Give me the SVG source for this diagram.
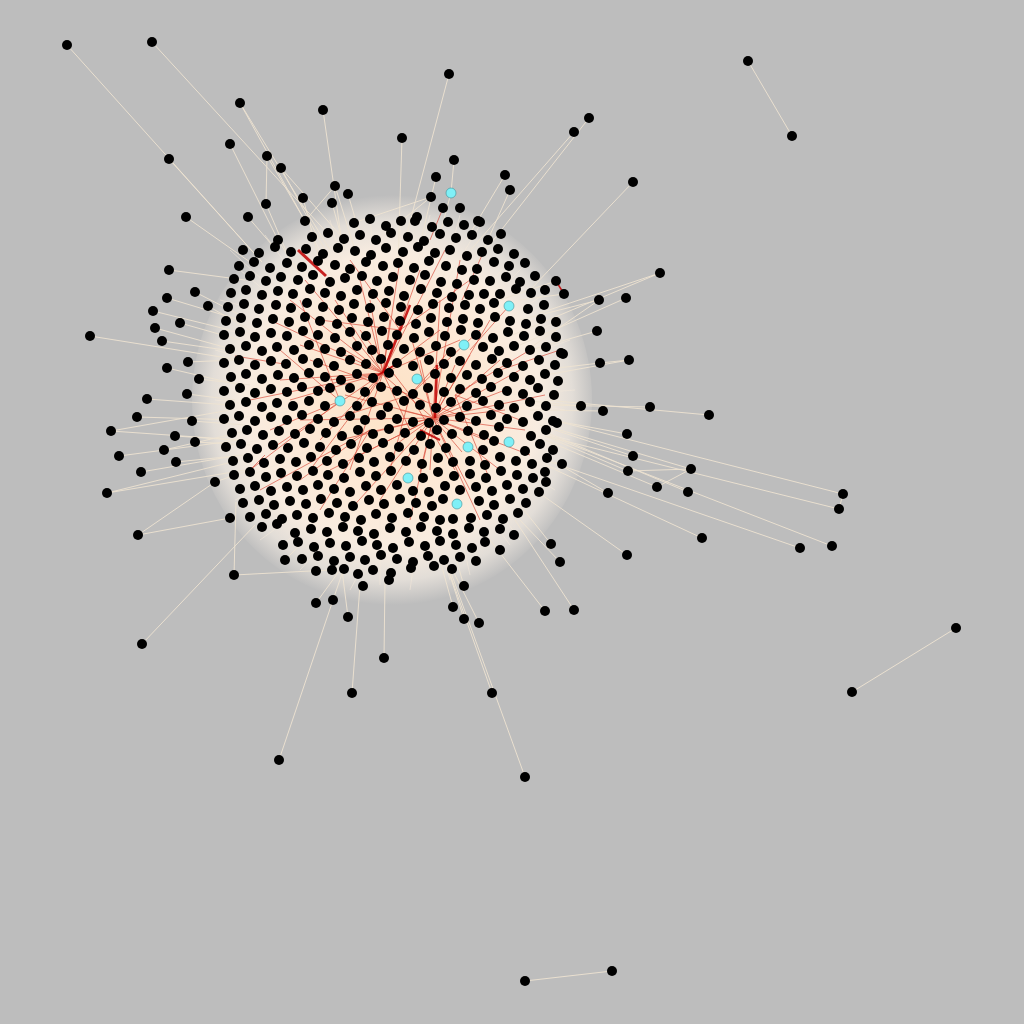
<svg xmlns="http://www.w3.org/2000/svg" xmlns:xlink="http://www.w3.org/1999/xlink" width="1024" height="1024" viewBox="0 0 1024 1024">
<defs>
<style>
.e{stroke:#eee3d1;stroke-width:0.9;fill:none}
.w{stroke:#f3e8da;stroke-width:0.7;opacity:.8;fill:none}
.r{stroke:#cc1100;stroke-width:0.7;opacity:.7;fill:none}
.rt{stroke:#c00000;fill:none;opacity:.85}
.cy{fill:#7ff0f7;stroke:#3c8f96;stroke-width:0.6}
</style>
<circle id="d" r="5" fill="#000"/>
<radialGradient id="haze" cx="392" cy="400" r="205" gradientUnits="userSpaceOnUse">
<stop offset="0" stop-color="#fde2c6"/>
<stop offset="0.45" stop-color="#fde9d6"/>
<stop offset="0.72" stop-color="#f8ece0"/>
<stop offset="0.88" stop-color="#e2ddd7"/>
<stop offset="1" stop-color="#bdbdbd"/>
</radialGradient>
</defs>
<rect width="1024" height="1024" fill="#bdbdbd"/>
<ellipse cx="392" cy="400" rx="200" ry="205" fill="url(#haze)"/>
<g id="edges">
<g class="w">
<line x1="230" y1="250" x2="350" y2="360"/><line x1="220" y1="300" x2="380" y2="340"/><line x1="215" y1="350" x2="360" y2="390"/><line x1="215" y1="400" x2="380" y2="420"/><line x1="220" y1="450" x2="370" y2="410"/><line x1="235" y1="500" x2="380" y2="430"/><line x1="260" y1="540" x2="400" y2="440"/><line x1="300" y1="570" x2="410" y2="450"/><line x1="350" y1="590" x2="420" y2="460"/><line x1="410" y1="590" x2="430" y2="450"/><line x1="470" y1="575" x2="440" y2="440"/><line x1="520" y1="540" x2="440" y2="430"/><line x1="555" y1="490" x2="445" y2="420"/><line x1="570" y1="440" x2="450" y2="410"/><line x1="575" y1="390" x2="440" y2="400"/><line x1="570" y1="340" x2="430" y2="390"/><line x1="550" y1="290" x2="420" y2="380"/><line x1="520" y1="250" x2="410" y2="370"/><line x1="480" y1="225" x2="400" y2="360"/><line x1="430" y1="215" x2="395" y2="350"/><line x1="370" y1="215" x2="380" y2="350"/><line x1="310" y1="230" x2="370" y2="355"/><line x1="265" y1="235" x2="360" y2="365"/>
<line x1="240" y1="270" x2="300" y2="320"/><line x1="225" y1="330" x2="290" y2="340"/><line x1="225" y1="420" x2="300" y2="410"/><line x1="240" y1="480" x2="310" y2="450"/><line x1="280" y1="550" x2="330" y2="490"/><line x1="380" y1="585" x2="380" y2="510"/><line x1="450" y1="580" x2="430" y2="510"/><line x1="510" y1="545" x2="470" y2="490"/><line x1="560" y1="470" x2="500" y2="450"/><line x1="565" y1="410" x2="500" y2="400"/><line x1="560" y1="320" x2="500" y2="350"/><line x1="530" y1="260" x2="480" y2="310"/><line x1="460" y1="215" x2="440" y2="290"/><line x1="400" y1="215" x2="400" y2="290"/><line x1="330" y1="220" x2="350" y2="290"/>
</g>
<line class="e" x1="67" y1="45" x2="262" y2="262"/>
<line class="e" x1="152" y1="42" x2="330" y2="236"/>
<line class="e" x1="240" y1="103" x2="305" y2="221"/>
<line class="e" x1="240" y1="103" x2="330" y2="250"/>
<line class="e" x1="323" y1="110" x2="341" y2="236"/>
<line class="e" x1="449" y1="74" x2="407" y2="233"/>
<line class="e" x1="402" y1="138" x2="398" y2="264"/>
<line class="e" x1="454" y1="160" x2="451" y2="193"/>
<line class="e" x1="451" y1="193" x2="440" y2="234"/>
<line class="e" x1="436" y1="177" x2="422" y2="236"/>
<line class="e" x1="431" y1="197" x2="401" y2="221"/>
<line class="e" x1="230" y1="144" x2="278" y2="240"/>
<line class="e" x1="267" y1="156" x2="266" y2="204"/>
<line class="e" x1="267" y1="156" x2="305" y2="221"/>
<line class="e" x1="281" y1="168" x2="341" y2="236"/>
<line class="e" x1="281" y1="168" x2="325" y2="250"/>
<line class="e" x1="169" y1="159" x2="262" y2="262"/>
<line class="e" x1="186" y1="217" x2="250" y2="262"/>
<line class="e" x1="248" y1="217" x2="278" y2="252"/>
<line class="e" x1="266" y1="204" x2="290" y2="260"/>
<line class="e" x1="303" y1="198" x2="320" y2="262"/>
<line class="e" x1="335" y1="186" x2="305" y2="221"/>
<line class="e" x1="335" y1="186" x2="355" y2="250"/>
<line class="e" x1="348" y1="194" x2="360" y2="235"/>
<line class="e" x1="332" y1="203" x2="345" y2="250"/>
<line class="e" x1="278" y1="240" x2="300" y2="275"/>
<line class="e" x1="353" y1="223" x2="431" y2="197"/>
<line class="e" x1="589" y1="118" x2="470" y2="270"/>
<line class="e" x1="574" y1="132" x2="460" y2="262"/>
<line class="e" x1="505" y1="175" x2="466" y2="240"/>
<line class="e" x1="510" y1="190" x2="478" y2="262"/>
<line class="e" x1="633" y1="182" x2="530" y2="290"/>
<line class="e" x1="748" y1="61" x2="792" y2="136"/>
<line class="e" x1="660" y1="273" x2="540" y2="313"/>
<line class="e" x1="660" y1="273" x2="510" y2="336"/>
<line class="e" x1="599" y1="300" x2="520" y2="320"/>
<line class="e" x1="599" y1="300" x2="530" y2="348"/>
<line class="e" x1="626" y1="298" x2="520" y2="345"/>
<line class="e" x1="597" y1="331" x2="530" y2="350"/>
<line class="e" x1="600" y1="363" x2="540" y2="370"/>
<line class="e" x1="629" y1="360" x2="600" y2="363"/>
<line class="e" x1="629" y1="360" x2="540" y2="376"/>
<line class="e" x1="581" y1="406" x2="520" y2="400"/>
<line class="e" x1="603" y1="411" x2="530" y2="410"/>
<line class="e" x1="650" y1="407" x2="540" y2="405"/>
<line class="e" x1="709" y1="415" x2="545" y2="400"/>
<line class="e" x1="627" y1="434" x2="540" y2="418"/>
<line class="e" x1="633" y1="456" x2="540" y2="425"/>
<line class="e" x1="628" y1="471" x2="545" y2="436"/>
<line class="e" x1="691" y1="469" x2="560" y2="430"/>
<line class="e" x1="691" y1="469" x2="628" y2="471"/>
<line class="e" x1="657" y1="487" x2="545" y2="440"/>
<line class="e" x1="657" y1="487" x2="691" y2="469"/>
<line class="e" x1="608" y1="493" x2="555" y2="462"/>
<line class="e" x1="688" y1="492" x2="540" y2="430"/>
<line class="e" x1="843" y1="494" x2="560" y2="422"/>
<line class="e" x1="839" y1="509" x2="545" y2="436"/>
<line class="e" x1="843" y1="494" x2="839" y2="509"/>
<line class="e" x1="800" y1="548" x2="545" y2="460"/>
<line class="e" x1="832" y1="546" x2="549" y2="436"/>
<line class="e" x1="702" y1="538" x2="545" y2="465"/>
<line class="e" x1="627" y1="555" x2="535" y2="490"/>
<line class="e" x1="560" y1="562" x2="520" y2="520"/>
<line class="e" x1="551" y1="544" x2="520" y2="505"/>
<line class="e" x1="574" y1="610" x2="515" y2="520"/>
<line class="e" x1="545" y1="611" x2="490" y2="540"/>
<line class="e" x1="564" y1="294" x2="520" y2="300"/>
<line class="e" x1="556" y1="281" x2="500" y2="300"/>
<line class="e" x1="169" y1="270" x2="245" y2="280"/>
<line class="e" x1="195" y1="292" x2="240" y2="315"/>
<line class="e" x1="167" y1="298" x2="240" y2="320"/>
<line class="e" x1="208" y1="306" x2="250" y2="330"/>
<line class="e" x1="153" y1="311" x2="230" y2="330"/>
<line class="e" x1="180" y1="323" x2="240" y2="340"/>
<line class="e" x1="155" y1="328" x2="235" y2="350"/>
<line class="e" x1="90" y1="336" x2="240" y2="360"/>
<line class="e" x1="162" y1="341" x2="225" y2="350"/>
<line class="e" x1="188" y1="362" x2="235" y2="360"/>
<line class="e" x1="167" y1="368" x2="240" y2="385"/>
<line class="e" x1="199" y1="379" x2="250" y2="385"/>
<line class="e" x1="187" y1="394" x2="235" y2="400"/>
<line class="e" x1="147" y1="399" x2="230" y2="405"/>
<line class="e" x1="137" y1="417" x2="240" y2="420"/>
<line class="e" x1="192" y1="421" x2="245" y2="425"/>
<line class="e" x1="111" y1="431" x2="230" y2="410"/>
<line class="e" x1="111" y1="431" x2="240" y2="440"/>
<line class="e" x1="175" y1="436" x2="235" y2="440"/>
<line class="e" x1="195" y1="442" x2="250" y2="445"/>
<line class="e" x1="164" y1="450" x2="250" y2="430"/>
<line class="e" x1="119" y1="456" x2="240" y2="440"/>
<line class="e" x1="176" y1="462" x2="245" y2="455"/>
<line class="e" x1="141" y1="472" x2="240" y2="455"/>
<line class="e" x1="215" y1="482" x2="250" y2="470"/>
<line class="e" x1="107" y1="493" x2="240" y2="460"/>
<line class="e" x1="107" y1="493" x2="245" y2="470"/>
<line class="e" x1="138" y1="535" x2="230" y2="518"/>
<line class="e" x1="138" y1="535" x2="215" y2="482"/>
<line class="e" x1="142" y1="644" x2="255" y2="525"/>
<line class="e" x1="234" y1="575" x2="236" y2="502"/>
<line class="e" x1="234" y1="575" x2="330" y2="570"/>
<line class="e" x1="285" y1="560" x2="300" y2="545"/>
<line class="e" x1="316" y1="603" x2="340" y2="570"/>
<line class="e" x1="333" y1="600" x2="345" y2="565"/>
<line class="e" x1="348" y1="617" x2="342" y2="570"/>
<line class="e" x1="384" y1="658" x2="385" y2="580"/>
<line class="e" x1="352" y1="693" x2="360" y2="585"/>
<line class="e" x1="279" y1="760" x2="333" y2="600"/>
<line class="e" x1="453" y1="607" x2="440" y2="560"/>
<line class="e" x1="464" y1="619" x2="445" y2="560"/>
<line class="e" x1="479" y1="623" x2="450" y2="565"/>
<line class="e" x1="492" y1="693" x2="445" y2="560"/>
<line class="e" x1="525" y1="777" x2="450" y2="570"/>
<line class="e" x1="464" y1="586" x2="455" y2="555"/>
<line class="e" x1="956" y1="628" x2="852" y2="692"/>
<line class="e" x1="612" y1="971" x2="525" y2="981"/>
<g class="r">
<line x1="433" y1="418" x2="380" y2="372"/><line x1="433" y1="418" x2="345" y2="395"/><line x1="433" y1="418" x2="470" y2="385"/><line x1="433" y1="418" x2="462" y2="452"/><line x1="433" y1="418" x2="420" y2="472"/><line x1="433" y1="418" x2="395" y2="445"/><line x1="433" y1="418" x2="412" y2="340"/><line x1="433" y1="418" x2="455" y2="365"/><line x1="433" y1="418" x2="505" y2="410"/><line x1="433" y1="418" x2="370" y2="432"/><line x1="433" y1="418" x2="440" y2="300"/><line x1="433" y1="418" x2="485" y2="440"/><line x1="433" y1="418" x2="430" y2="470"/><line x1="433" y1="418" x2="400" y2="410"/><line x1="433" y1="418" x2="360" y2="455"/><line x1="433" y1="418" x2="505" y2="390"/><line x1="433" y1="418" x2="470" y2="355"/><line x1="433" y1="418" x2="420" y2="360"/><line x1="433" y1="418" x2="300" y2="420"/><line x1="433" y1="418" x2="330" y2="470"/><line x1="433" y1="418" x2="500" y2="360"/><line x1="433" y1="418" x2="470" y2="490"/><line x1="433" y1="418" x2="380" y2="500"/><line x1="433" y1="418" x2="525" y2="430"/><line x1="433" y1="418" x2="545" y2="395"/><line x1="433" y1="418" x2="480" y2="520"/>
<line x1="433" y1="418" x2="410" y2="520"/><line x1="433" y1="418" x2="350" y2="510"/><line x1="433" y1="418" x2="500" y2="470"/><line x1="433" y1="418" x2="530" y2="455"/><line x1="433" y1="418" x2="490" y2="320"/><line x1="433" y1="418" x2="460" y2="260"/><line x1="433" y1="418" x2="520" y2="370"/><line x1="433" y1="418" x2="340" y2="440"/>
<line x1="383" y1="373" x2="335" y2="300"/><line x1="383" y1="373" x2="345" y2="350"/><line x1="383" y1="373" x2="360" y2="410"/><line x1="383" y1="373" x2="330" y2="380"/><line x1="383" y1="373" x2="440" y2="330"/><line x1="383" y1="373" x2="390" y2="320"/><line x1="383" y1="373" x2="300" y2="345"/><line x1="383" y1="373" x2="280" y2="380"/><line x1="383" y1="373" x2="320" y2="440"/><line x1="383" y1="373" x2="350" y2="470"/><line x1="383" y1="373" x2="400" y2="260"/><line x1="383" y1="373" x2="445" y2="250"/><line x1="383" y1="373" x2="460" y2="340"/><line x1="383" y1="373" x2="290" y2="400"/><line x1="383" y1="373" x2="270" y2="320"/><line x1="383" y1="373" x2="410" y2="430"/><line x1="383" y1="373" x2="305" y2="280"/><line x1="383" y1="373" x2="250" y2="400"/>
<line x1="383" y1="373" x2="360" y2="280"/><line x1="383" y1="373" x2="290" y2="300"/><line x1="383" y1="373" x2="270" y2="450"/><line x1="383" y1="373" x2="370" y2="300"/><line x1="383" y1="373" x2="420" y2="270"/><line x1="383" y1="373" x2="310" y2="470"/>
<line x1="410" y1="395" x2="360" y2="330"/><line x1="410" y1="395" x2="470" y2="420"/><line x1="410" y1="395" x2="330" y2="420"/><line x1="410" y1="395" x2="390" y2="470"/><line x1="410" y1="395" x2="480" y2="330"/><line x1="410" y1="395" x2="455" y2="470"/><line x1="410" y1="395" x2="310" y2="360"/><line x1="410" y1="395" x2="450" y2="350"/>
<line x1="340" y1="401" x2="250" y2="470"/><line x1="340" y1="401" x2="300" y2="300"/><line x1="340" y1="401" x2="270" y2="430"/><line x1="340" y1="401" x2="280" y2="350"/>
<line x1="455" y1="395" x2="520" y2="420"/><line x1="455" y1="395" x2="530" y2="350"/><line x1="455" y1="395" x2="490" y2="480"/>
<line x1="370" y1="430" x2="300" y2="480"/><line x1="370" y1="430" x2="320" y2="510"/><line x1="370" y1="430" x2="260" y2="490"/>
<line x1="400" y1="330" x2="350" y2="260"/><line x1="400" y1="330" x2="470" y2="280"/><line x1="400" y1="330" x2="320" y2="320"/>
<line x1="443" y1="208" x2="430" y2="240"/><line x1="483" y1="253" x2="462" y2="300"/><line x1="235" y1="356" x2="290" y2="365"/><line x1="250" y1="470" x2="265" y2="455"/><line x1="509" y1="306" x2="470" y2="350"/><line x1="560" y1="350" x2="500" y2="370"/>
</g>
<line class="rt" x1="298" y1="250" x2="326" y2="276" stroke-width="3"/>
<line class="rt" x1="383" y1="373" x2="410" y2="305" stroke-width="2.5"/>
<line class="rt" x1="437" y1="365" x2="435" y2="418" stroke-width="2.5"/>
<line class="rt" x1="556" y1="281" x2="564" y2="294" stroke-width="1.5"/>
<line class="rt" x1="370" y1="380" x2="395" y2="365" stroke-width="2"/>
<line class="rt" x1="420" y1="430" x2="440" y2="440" stroke-width="2"/>
</g>
<g id="nodes">
<g id="core">
<use id="i0" href="#d" x="354" y="223"/><use id="i1" href="#d" x="370" y="219"/><use id="i2" href="#d" x="386" y="226"/><use id="i3" href="#d" x="401" y="221"/><use id="i4" href="#d" x="417" y="217"/><use id="i5" href="#d" x="432" y="227"/><use id="i6" href="#d" x="464" y="225"/><use id="i7" href="#d" x="478" y="221"/>
<use id="i8" href="#d" x="312" y="237"/><use id="i9" href="#d" x="328" y="233"/><use id="i10" href="#d" x="344" y="239"/><use id="i11" href="#d" x="360" y="235"/><use id="i12" href="#d" x="376" y="240"/><use id="i13" href="#d" x="391" y="233"/><use id="i14" href="#d" x="408" y="237"/><use id="i15" href="#d" x="424" y="241"/><use id="i16" href="#d" x="440" y="234"/><use id="i17" href="#d" x="456" y="238"/><use id="i18" href="#d" x="472" y="235"/><use id="i19" href="#d" x="488" y="240"/><use id="i20" href="#d" x="501" y="234"/>
<use id="i21" href="#d" x="243" y="250"/><use id="i22" href="#d" x="259" y="253"/><use id="i23" href="#d" x="275" y="247"/><use id="i24" href="#d" x="291" y="252"/><use id="i25" href="#d" x="306" y="249"/><use id="i26" href="#d" x="323" y="254"/><use id="i27" href="#d" x="338" y="248"/><use id="i28" href="#d" x="355" y="251"/><use id="i29" href="#d" x="371" y="255"/><use id="i30" href="#d" x="386" y="248"/><use id="i31" href="#d" x="403" y="252"/><use id="i32" href="#d" x="418" y="247"/><use id="i33" href="#d" x="435" y="253"/><use id="i34" href="#d" x="450" y="250"/><use id="i35" href="#d" x="467" y="256"/><use id="i36" href="#d" x="482" y="252"/><use id="i37" href="#d" x="498" y="249"/><use id="i38" href="#d" x="514" y="254"/>
<use id="i39" href="#d" x="239" y="266"/><use id="i40" href="#d" x="254" y="262"/><use id="i41" href="#d" x="270" y="268"/><use id="i42" href="#d" x="287" y="263"/><use id="i43" href="#d" x="302" y="267"/><use id="i44" href="#d" x="318" y="261"/><use id="i45" href="#d" x="335" y="265"/><use id="i46" href="#d" x="350" y="269"/><use id="i47" href="#d" x="366" y="262"/><use id="i48" href="#d" x="383" y="266"/><use id="i49" href="#d" x="398" y="263"/><use id="i50" href="#d" x="414" y="268"/><use id="i51" href="#d" x="429" y="261"/><use id="i52" href="#d" x="446" y="266"/><use id="i53" href="#d" x="462" y="270"/><use id="i54" href="#d" x="477" y="269"/><use id="i55" href="#d" x="494" y="262"/><use id="i56" href="#d" x="509" y="266"/><use id="i57" href="#d" x="525" y="263"/>
<use id="i58" href="#d" x="234" y="279"/><use id="i59" href="#d" x="250" y="276"/><use id="i60" href="#d" x="266" y="281"/><use id="i61" href="#d" x="281" y="277"/><use id="i62" href="#d" x="298" y="280"/><use id="i63" href="#d" x="313" y="275"/><use id="i64" href="#d" x="330" y="282"/><use id="i65" href="#d" x="345" y="278"/><use id="i66" href="#d" x="362" y="276"/><use id="i67" href="#d" x="377" y="281"/><use id="i68" href="#d" x="393" y="277"/><use id="i69" href="#d" x="410" y="280"/><use id="i70" href="#d" x="425" y="275"/><use id="i71" href="#d" x="441" y="282"/><use id="i72" href="#d" x="457" y="284"/><use id="i73" href="#d" x="474" y="280"/><use id="i74" href="#d" x="490" y="281"/><use id="i75" href="#d" x="506" y="277"/><use id="i76" href="#d" x="520" y="282"/><use id="i77" href="#d" x="535" y="276"/>
<use id="i78" href="#d" x="231" y="293"/><use id="i79" href="#d" x="246" y="290"/><use id="i80" href="#d" x="262" y="295"/><use id="i81" href="#d" x="278" y="291"/><use id="i82" href="#d" x="293" y="294"/><use id="i83" href="#d" x="310" y="289"/><use id="i84" href="#d" x="325" y="293"/><use id="i85" href="#d" x="341" y="296"/><use id="i86" href="#d" x="357" y="290"/><use id="i87" href="#d" x="373" y="294"/><use id="i88" href="#d" x="389" y="291"/><use id="i89" href="#d" x="404" y="296"/><use id="i90" href="#d" x="421" y="289"/><use id="i91" href="#d" x="437" y="293"/><use id="i92" href="#d" x="452" y="297"/><use id="i93" href="#d" x="469" y="295"/><use id="i94" href="#d" x="484" y="294"/><use id="i95" href="#d" x="500" y="294"/><use id="i96" href="#d" x="516" y="289"/><use id="i97" href="#d" x="531" y="293"/><use id="i98" href="#d" x="545" y="290"/>
<use id="i99" href="#d" x="228" y="307"/><use id="i100" href="#d" x="244" y="304"/><use id="i101" href="#d" x="259" y="309"/><use id="i102" href="#d" x="276" y="305"/><use id="i103" href="#d" x="291" y="308"/><use id="i104" href="#d" x="307" y="303"/><use id="i105" href="#d" x="323" y="307"/><use id="i106" href="#d" x="339" y="310"/><use id="i107" href="#d" x="354" y="304"/><use id="i108" href="#d" x="370" y="308"/><use id="i109" href="#d" x="386" y="303"/><use id="i110" href="#d" x="401" y="307"/><use id="i111" href="#d" x="418" y="310"/><use id="i112" href="#d" x="433" y="304"/><use id="i113" href="#d" x="449" y="308"/><use id="i114" href="#d" x="465" y="305"/><use id="i115" href="#d" x="480" y="309"/><use id="i116" href="#d" x="494" y="303"/><use id="i117" href="#d" x="528" y="309"/><use id="i118" href="#d" x="544" y="305"/>
<use id="i119" href="#d" x="226" y="321"/><use id="i120" href="#d" x="241" y="318"/><use id="i121" href="#d" x="257" y="323"/><use id="i122" href="#d" x="273" y="319"/><use id="i123" href="#d" x="289" y="322"/><use id="i124" href="#d" x="305" y="317"/><use id="i125" href="#d" x="320" y="321"/><use id="i126" href="#d" x="337" y="324"/><use id="i127" href="#d" x="352" y="318"/><use id="i128" href="#d" x="368" y="322"/><use id="i129" href="#d" x="384" y="317"/><use id="i130" href="#d" x="400" y="321"/><use id="i131" href="#d" x="416" y="324"/><use id="i132" href="#d" x="431" y="318"/><use id="i133" href="#d" x="447" y="322"/><use id="i134" href="#d" x="463" y="319"/><use id="i135" href="#d" x="478" y="323"/><use id="i136" href="#d" x="495" y="317"/><use id="i137" href="#d" x="510" y="321"/><use id="i138" href="#d" x="526" y="324"/><use id="i139" href="#d" x="541" y="319"/><use id="i140" href="#d" x="556" y="322"/>
<use id="i141" href="#d" x="224" y="335"/><use id="i142" href="#d" x="240" y="332"/><use id="i143" href="#d" x="255" y="337"/><use id="i144" href="#d" x="271" y="333"/><use id="i145" href="#d" x="287" y="336"/><use id="i146" href="#d" x="303" y="331"/><use id="i147" href="#d" x="318" y="335"/><use id="i148" href="#d" x="335" y="338"/><use id="i149" href="#d" x="350" y="332"/><use id="i150" href="#d" x="366" y="336"/><use id="i151" href="#d" x="382" y="331"/><use id="i152" href="#d" x="397" y="335"/><use id="i153" href="#d" x="414" y="338"/><use id="i154" href="#d" x="429" y="332"/><use id="i155" href="#d" x="445" y="336"/><use id="i156" href="#d" x="461" y="330"/><use id="i157" href="#d" x="476" y="335"/><use id="i158" href="#d" x="493" y="338"/><use id="i159" href="#d" x="508" y="332"/><use id="i160" href="#d" x="524" y="336"/><use id="i161" href="#d" x="540" y="331"/><use id="i162" href="#d" x="556" y="337"/>
<use id="i163" href="#d" x="230" y="349"/><use id="i164" href="#d" x="246" y="346"/><use id="i165" href="#d" x="262" y="351"/><use id="i166" href="#d" x="277" y="347"/><use id="i167" href="#d" x="294" y="350"/><use id="i168" href="#d" x="309" y="345"/><use id="i169" href="#d" x="325" y="349"/><use id="i170" href="#d" x="341" y="352"/><use id="i171" href="#d" x="357" y="346"/><use id="i172" href="#d" x="372" y="350"/><use id="i173" href="#d" x="388" y="345"/><use id="i174" href="#d" x="404" y="349"/><use id="i175" href="#d" x="420" y="352"/><use id="i176" href="#d" x="436" y="346"/><use id="i177" href="#d" x="451" y="352"/><use id="i178" href="#d" x="483" y="347"/><use id="i179" href="#d" x="499" y="351"/><use id="i180" href="#d" x="514" y="346"/><use id="i181" href="#d" x="530" y="350"/><use id="i182" href="#d" x="546" y="347"/><use id="i183" href="#d" x="561" y="353"/>
<use id="i184" href="#d" x="224" y="363"/><use id="i185" href="#d" x="239" y="360"/><use id="i186" href="#d" x="255" y="365"/><use id="i187" href="#d" x="271" y="361"/><use id="i188" href="#d" x="286" y="364"/><use id="i189" href="#d" x="303" y="359"/><use id="i190" href="#d" x="318" y="363"/><use id="i191" href="#d" x="334" y="366"/><use id="i192" href="#d" x="350" y="360"/><use id="i193" href="#d" x="366" y="364"/><use id="i194" href="#d" x="381" y="359"/><use id="i195" href="#d" x="397" y="363"/><use id="i196" href="#d" x="413" y="366"/><use id="i197" href="#d" x="429" y="360"/><use id="i198" href="#d" x="444" y="364"/><use id="i199" href="#d" x="460" y="361"/><use id="i200" href="#d" x="476" y="365"/><use id="i201" href="#d" x="492" y="359"/><use id="i202" href="#d" x="507" y="363"/><use id="i203" href="#d" x="523" y="366"/><use id="i204" href="#d" x="539" y="360"/><use id="i205" href="#d" x="555" y="365"/>
<use id="i206" href="#d" x="231" y="377"/><use id="i207" href="#d" x="246" y="374"/><use id="i208" href="#d" x="262" y="379"/><use id="i209" href="#d" x="278" y="375"/><use id="i210" href="#d" x="294" y="378"/><use id="i211" href="#d" x="309" y="373"/><use id="i212" href="#d" x="325" y="377"/><use id="i213" href="#d" x="341" y="380"/><use id="i214" href="#d" x="357" y="374"/><use id="i215" href="#d" x="373" y="378"/><use id="i216" href="#d" x="389" y="373"/><use id="i217" href="#d" x="435" y="374"/><use id="i218" href="#d" x="451" y="378"/><use id="i219" href="#d" x="467" y="375"/><use id="i220" href="#d" x="482" y="379"/><use id="i221" href="#d" x="498" y="373"/><use id="i222" href="#d" x="514" y="377"/><use id="i223" href="#d" x="530" y="380"/><use id="i224" href="#d" x="545" y="374"/><use id="i225" href="#d" x="558" y="381"/>
<use id="i226" href="#d" x="224" y="391"/><use id="i227" href="#d" x="240" y="388"/><use id="i228" href="#d" x="255" y="393"/><use id="i229" href="#d" x="271" y="389"/><use id="i230" href="#d" x="287" y="392"/><use id="i231" href="#d" x="302" y="387"/><use id="i232" href="#d" x="318" y="391"/><use id="i233" href="#d" x="330" y="388"/><use id="i234" href="#d" x="350" y="388"/><use id="i235" href="#d" x="365" y="392"/><use id="i236" href="#d" x="381" y="387"/><use id="i237" href="#d" x="397" y="391"/><use id="i238" href="#d" x="413" y="394"/><use id="i239" href="#d" x="428" y="388"/><use id="i240" href="#d" x="444" y="392"/><use id="i241" href="#d" x="460" y="389"/><use id="i242" href="#d" x="476" y="393"/><use id="i243" href="#d" x="491" y="387"/><use id="i244" href="#d" x="507" y="391"/><use id="i245" href="#d" x="523" y="394"/><use id="i246" href="#d" x="538" y="388"/><use id="i247" href="#d" x="554" y="395"/>
<use id="i248" href="#d" x="230" y="405"/><use id="i249" href="#d" x="246" y="402"/><use id="i250" href="#d" x="262" y="407"/><use id="i251" href="#d" x="277" y="403"/><use id="i252" href="#d" x="293" y="406"/><use id="i253" href="#d" x="309" y="401"/><use id="i254" href="#d" x="325" y="406"/><use id="i255" href="#d" x="357" y="406"/><use id="i256" href="#d" x="372" y="402"/><use id="i257" href="#d" x="388" y="407"/><use id="i258" href="#d" x="404" y="401"/><use id="i259" href="#d" x="420" y="405"/><use id="i260" href="#d" x="436" y="408"/><use id="i261" href="#d" x="451" y="402"/><use id="i262" href="#d" x="467" y="406"/><use id="i263" href="#d" x="483" y="401"/><use id="i264" href="#d" x="499" y="405"/><use id="i265" href="#d" x="514" y="408"/><use id="i266" href="#d" x="530" y="402"/><use id="i267" href="#d" x="546" y="406"/>
<use id="i268" href="#d" x="224" y="419"/><use id="i269" href="#d" x="239" y="416"/><use id="i270" href="#d" x="255" y="421"/><use id="i271" href="#d" x="271" y="417"/><use id="i272" href="#d" x="287" y="420"/><use id="i273" href="#d" x="302" y="415"/><use id="i274" href="#d" x="318" y="419"/><use id="i275" href="#d" x="334" y="422"/><use id="i276" href="#d" x="350" y="416"/><use id="i277" href="#d" x="365" y="420"/><use id="i278" href="#d" x="381" y="415"/><use id="i279" href="#d" x="397" y="419"/><use id="i280" href="#d" x="413" y="422"/><use id="i281" href="#d" x="429" y="423"/><use id="i282" href="#d" x="444" y="420"/><use id="i283" href="#d" x="460" y="417"/><use id="i284" href="#d" x="476" y="421"/><use id="i285" href="#d" x="491" y="415"/><use id="i286" href="#d" x="507" y="419"/><use id="i287" href="#d" x="523" y="422"/><use id="i288" href="#d" x="538" y="416"/><use id="i289" href="#d" x="553" y="421"/>
<use id="i290" href="#d" x="232" y="433"/><use id="i291" href="#d" x="247" y="430"/><use id="i292" href="#d" x="263" y="435"/><use id="i293" href="#d" x="279" y="431"/><use id="i294" href="#d" x="295" y="434"/><use id="i295" href="#d" x="310" y="429"/><use id="i296" href="#d" x="326" y="433"/><use id="i297" href="#d" x="342" y="436"/><use id="i298" href="#d" x="358" y="430"/><use id="i299" href="#d" x="373" y="434"/><use id="i300" href="#d" x="389" y="429"/><use id="i301" href="#d" x="405" y="433"/><use id="i302" href="#d" x="421" y="436"/><use id="i303" href="#d" x="437" y="430"/><use id="i304" href="#d" x="452" y="434"/><use id="i305" href="#d" x="468" y="431"/><use id="i306" href="#d" x="484" y="435"/><use id="i307" href="#d" x="499" y="427"/><use id="i308" href="#d" x="531" y="436"/><use id="i309" href="#d" x="546" y="430"/>
<use id="i310" href="#d" x="226" y="447"/><use id="i311" href="#d" x="241" y="444"/><use id="i312" href="#d" x="257" y="449"/><use id="i313" href="#d" x="273" y="445"/><use id="i314" href="#d" x="288" y="448"/><use id="i315" href="#d" x="304" y="443"/><use id="i316" href="#d" x="320" y="447"/><use id="i317" href="#d" x="336" y="450"/><use id="i318" href="#d" x="351" y="444"/><use id="i319" href="#d" x="367" y="448"/><use id="i320" href="#d" x="383" y="443"/><use id="i321" href="#d" x="399" y="447"/><use id="i322" href="#d" x="414" y="450"/><use id="i323" href="#d" x="430" y="444"/><use id="i324" href="#d" x="446" y="448"/><use id="i325" href="#d" x="483" y="450"/><use id="i326" href="#d" x="494" y="441"/><use id="i327" href="#d" x="525" y="451"/><use id="i328" href="#d" x="540" y="444"/><use id="i329" href="#d" x="553" y="450"/>
<use id="i330" href="#d" x="233" y="461"/><use id="i331" href="#d" x="248" y="458"/><use id="i332" href="#d" x="264" y="463"/><use id="i333" href="#d" x="280" y="459"/><use id="i334" href="#d" x="296" y="462"/><use id="i335" href="#d" x="311" y="457"/><use id="i336" href="#d" x="327" y="461"/><use id="i337" href="#d" x="343" y="464"/><use id="i338" href="#d" x="359" y="458"/><use id="i339" href="#d" x="374" y="462"/><use id="i340" href="#d" x="390" y="457"/><use id="i341" href="#d" x="406" y="461"/><use id="i342" href="#d" x="422" y="464"/><use id="i343" href="#d" x="438" y="458"/><use id="i344" href="#d" x="453" y="462"/><use id="i345" href="#d" x="470" y="461"/><use id="i346" href="#d" x="485" y="465"/><use id="i347" href="#d" x="500" y="457"/><use id="i348" href="#d" x="516" y="461"/><use id="i349" href="#d" x="532" y="464"/><use id="i350" href="#d" x="547" y="458"/>
<use id="i351" href="#d" x="234" y="475"/><use id="i352" href="#d" x="250" y="472"/><use id="i353" href="#d" x="266" y="477"/><use id="i354" href="#d" x="281" y="473"/><use id="i355" href="#d" x="297" y="476"/><use id="i356" href="#d" x="313" y="471"/><use id="i357" href="#d" x="328" y="475"/><use id="i358" href="#d" x="344" y="478"/><use id="i359" href="#d" x="360" y="472"/><use id="i360" href="#d" x="376" y="476"/><use id="i361" href="#d" x="391" y="471"/><use id="i362" href="#d" x="423" y="478"/><use id="i363" href="#d" x="438" y="472"/><use id="i364" href="#d" x="454" y="476"/><use id="i365" href="#d" x="470" y="474"/><use id="i366" href="#d" x="486" y="478"/><use id="i367" href="#d" x="501" y="471"/><use id="i368" href="#d" x="517" y="475"/><use id="i369" href="#d" x="533" y="478"/><use id="i370" href="#d" x="545" y="472"/>
<use id="i371" href="#d" x="240" y="489"/><use id="i372" href="#d" x="255" y="486"/><use id="i373" href="#d" x="271" y="491"/><use id="i374" href="#d" x="287" y="487"/><use id="i375" href="#d" x="303" y="490"/><use id="i376" href="#d" x="318" y="485"/><use id="i377" href="#d" x="334" y="489"/><use id="i378" href="#d" x="350" y="492"/><use id="i379" href="#d" x="366" y="486"/><use id="i380" href="#d" x="381" y="490"/><use id="i381" href="#d" x="397" y="485"/><use id="i382" href="#d" x="413" y="491"/><use id="i383" href="#d" x="429" y="492"/><use id="i384" href="#d" x="445" y="486"/><use id="i385" href="#d" x="460" y="490"/><use id="i386" href="#d" x="476" y="487"/><use id="i387" href="#d" x="492" y="491"/><use id="i388" href="#d" x="507" y="485"/><use id="i389" href="#d" x="523" y="489"/><use id="i390" href="#d" x="539" y="492"/>
<use id="i391" href="#d" x="243" y="503"/><use id="i392" href="#d" x="259" y="500"/><use id="i393" href="#d" x="274" y="505"/><use id="i394" href="#d" x="290" y="501"/><use id="i395" href="#d" x="306" y="504"/><use id="i396" href="#d" x="321" y="499"/><use id="i397" href="#d" x="337" y="503"/><use id="i398" href="#d" x="353" y="506"/><use id="i399" href="#d" x="369" y="500"/><use id="i400" href="#d" x="384" y="504"/><use id="i401" href="#d" x="400" y="499"/><use id="i402" href="#d" x="416" y="503"/><use id="i403" href="#d" x="432" y="506"/><use id="i404" href="#d" x="443" y="499"/><use id="i405" href="#d" x="479" y="501"/><use id="i406" href="#d" x="494" y="505"/><use id="i407" href="#d" x="510" y="499"/><use id="i408" href="#d" x="526" y="503"/>
<use id="i409" href="#d" x="250" y="517"/><use id="i410" href="#d" x="266" y="514"/><use id="i411" href="#d" x="282" y="519"/><use id="i412" href="#d" x="297" y="515"/><use id="i413" href="#d" x="313" y="518"/><use id="i414" href="#d" x="329" y="513"/><use id="i415" href="#d" x="345" y="517"/><use id="i416" href="#d" x="361" y="520"/><use id="i417" href="#d" x="376" y="514"/><use id="i418" href="#d" x="392" y="518"/><use id="i419" href="#d" x="408" y="513"/><use id="i420" href="#d" x="424" y="517"/><use id="i421" href="#d" x="440" y="520"/><use id="i422" href="#d" x="453" y="519"/><use id="i423" href="#d" x="471" y="518"/><use id="i424" href="#d" x="487" y="515"/><use id="i425" href="#d" x="503" y="519"/><use id="i426" href="#d" x="518" y="513"/>
<use id="i427" href="#d" x="262" y="527"/><use id="i428" href="#d" x="277" y="524"/><use id="i429" href="#d" x="295" y="533"/><use id="i430" href="#d" x="311" y="529"/><use id="i431" href="#d" x="327" y="532"/><use id="i432" href="#d" x="343" y="527"/><use id="i433" href="#d" x="358" y="531"/><use id="i434" href="#d" x="374" y="534"/><use id="i435" href="#d" x="390" y="528"/><use id="i436" href="#d" x="406" y="532"/><use id="i437" href="#d" x="421" y="527"/><use id="i438" href="#d" x="437" y="531"/><use id="i439" href="#d" x="453" y="534"/><use id="i440" href="#d" x="469" y="528"/><use id="i441" href="#d" x="484" y="532"/><use id="i442" href="#d" x="500" y="529"/><use id="i443" href="#d" x="514" y="535"/>
<use id="i444" href="#d" x="283" y="545"/><use id="i445" href="#d" x="298" y="542"/><use id="i446" href="#d" x="314" y="547"/><use id="i447" href="#d" x="330" y="543"/><use id="i448" href="#d" x="346" y="546"/><use id="i449" href="#d" x="362" y="541"/><use id="i450" href="#d" x="377" y="545"/><use id="i451" href="#d" x="393" y="548"/><use id="i452" href="#d" x="409" y="542"/><use id="i453" href="#d" x="425" y="546"/><use id="i454" href="#d" x="440" y="541"/><use id="i455" href="#d" x="456" y="545"/><use id="i456" href="#d" x="472" y="548"/><use id="i457" href="#d" x="485" y="542"/><use id="i458" href="#d" x="500" y="550"/>
<use id="i459" href="#d" x="302" y="559"/><use id="i460" href="#d" x="318" y="556"/><use id="i461" href="#d" x="334" y="561"/><use id="i462" href="#d" x="350" y="557"/><use id="i463" href="#d" x="365" y="560"/><use id="i464" href="#d" x="381" y="555"/><use id="i465" href="#d" x="397" y="559"/><use id="i466" href="#d" x="413" y="562"/><use id="i467" href="#d" x="428" y="556"/><use id="i468" href="#d" x="444" y="560"/><use id="i469" href="#d" x="460" y="557"/><use id="i470" href="#d" x="476" y="561"/>
<use id="i471" href="#d" x="316" y="571"/><use id="i472" href="#d" x="332" y="570"/><use id="i473" href="#d" x="344" y="569"/><use id="i474" href="#d" x="358" y="574"/><use id="i475" href="#d" x="373" y="570"/><use id="i476" href="#d" x="391" y="573"/><use id="i477" href="#d" x="411" y="568"/><use id="i478" href="#d" x="434" y="566"/><use id="i479" href="#d" x="452" y="569"/>
<use id="i480" href="#d" x="363" y="586"/><use id="i481" href="#d" x="389" y="580"/>
</g>
<g id="outer">
<use id="o1" href="#d" x="67" y="45"/><use id="o2" href="#d" x="152" y="42"/><use id="o3" href="#d" x="240" y="103"/><use id="o4" href="#d" x="323" y="110"/><use id="o5" href="#d" x="449" y="74"/><use id="o6" href="#d" x="402" y="138"/><use id="o7" href="#d" x="454" y="160"/><use id="o8" href="#d" x="436" y="177"/><use id="o9" href="#d" x="431" y="197"/><use id="o10" href="#d" x="443" y="208"/><use id="o11" href="#d" x="460" y="208"/><use id="o12" href="#d" x="230" y="144"/><use id="o13" href="#d" x="267" y="156"/><use id="o14" href="#d" x="281" y="168"/><use id="o15" href="#d" x="169" y="159"/><use id="o16" href="#d" x="335" y="186"/><use id="o17" href="#d" x="348" y="194"/><use id="o18" href="#d" x="303" y="198"/><use id="o19" href="#d" x="332" y="203"/><use id="o20" href="#d" x="266" y="204"/><use id="o21" href="#d" x="186" y="217"/><use id="o22" href="#d" x="248" y="217"/><use id="o23" href="#d" x="305" y="221"/><use id="o24" href="#d" x="278" y="240"/><use id="o25" href="#d" x="415" y="221"/><use id="o26" href="#d" x="448" y="222"/>
<use id="o27" href="#d" x="589" y="118"/><use id="o28" href="#d" x="574" y="132"/><use id="o29" href="#d" x="505" y="175"/><use id="o30" href="#d" x="510" y="190"/><use id="o31" href="#d" x="633" y="182"/><use id="o32" href="#d" x="748" y="61"/><use id="o33" href="#d" x="792" y="136"/><use id="o34" href="#d" x="480" y="222"/>
<use id="o35" href="#d" x="660" y="273"/><use id="o36" href="#d" x="599" y="300"/><use id="o37" href="#d" x="626" y="298"/><use id="o38" href="#d" x="556" y="281"/><use id="o39" href="#d" x="564" y="294"/><use id="o40" href="#d" x="597" y="331"/><use id="o41" href="#d" x="600" y="363"/><use id="o42" href="#d" x="629" y="360"/><use id="o43" href="#d" x="581" y="406"/><use id="o44" href="#d" x="603" y="411"/><use id="o45" href="#d" x="650" y="407"/><use id="o46" href="#d" x="709" y="415"/><use id="o47" href="#d" x="627" y="434"/><use id="o48" href="#d" x="633" y="456"/><use id="o49" href="#d" x="628" y="471"/><use id="o50" href="#d" x="691" y="469"/><use id="o51" href="#d" x="608" y="493"/><use id="o52" href="#d" x="657" y="487"/><use id="o53" href="#d" x="688" y="492"/><use id="o54" href="#d" x="843" y="494"/><use id="o55" href="#d" x="839" y="509"/><use id="o56" href="#d" x="702" y="538"/><use id="o57" href="#d" x="800" y="548"/><use id="o58" href="#d" x="832" y="546"/><use id="o59" href="#d" x="551" y="544"/><use id="o60" href="#d" x="560" y="562"/><use id="o61" href="#d" x="627" y="555"/><use id="o62" href="#d" x="545" y="611"/><use id="o63" href="#d" x="574" y="610"/><use id="o64" href="#d" x="563" y="354"/><use id="o65" href="#d" x="557" y="423"/><use id="o66" href="#d" x="562" y="464"/><use id="o67" href="#d" x="546" y="482"/>
<use id="o68" href="#d" x="169" y="270"/><use id="o69" href="#d" x="195" y="292"/><use id="o70" href="#d" x="167" y="298"/><use id="o71" href="#d" x="208" y="306"/><use id="o72" href="#d" x="153" y="311"/><use id="o73" href="#d" x="180" y="323"/><use id="o74" href="#d" x="155" y="328"/><use id="o75" href="#d" x="90" y="336"/><use id="o76" href="#d" x="162" y="341"/><use id="o77" href="#d" x="188" y="362"/><use id="o78" href="#d" x="167" y="368"/><use id="o79" href="#d" x="199" y="379"/><use id="o80" href="#d" x="187" y="394"/><use id="o81" href="#d" x="147" y="399"/><use id="o82" href="#d" x="137" y="417"/><use id="o83" href="#d" x="192" y="421"/><use id="o84" href="#d" x="111" y="431"/><use id="o85" href="#d" x="175" y="436"/><use id="o86" href="#d" x="195" y="442"/><use id="o87" href="#d" x="164" y="450"/><use id="o88" href="#d" x="119" y="456"/><use id="o89" href="#d" x="176" y="462"/><use id="o90" href="#d" x="141" y="472"/><use id="o91" href="#d" x="215" y="482"/><use id="o92" href="#d" x="107" y="493"/><use id="o93" href="#d" x="138" y="535"/><use id="o94" href="#d" x="234" y="575"/><use id="o95" href="#d" x="142" y="644"/><use id="o96" href="#d" x="230" y="518"/>
<use id="o97" href="#d" x="285" y="560"/><use id="o98" href="#d" x="316" y="603"/><use id="o99" href="#d" x="333" y="600"/><use id="o100" href="#d" x="348" y="617"/><use id="o101" href="#d" x="384" y="658"/><use id="o102" href="#d" x="352" y="693"/><use id="o103" href="#d" x="279" y="760"/><use id="o104" href="#d" x="453" y="607"/><use id="o105" href="#d" x="464" y="619"/><use id="o106" href="#d" x="479" y="623"/><use id="o107" href="#d" x="492" y="693"/><use id="o108" href="#d" x="525" y="777"/><use id="o109" href="#d" x="464" y="586"/>
<use id="o110" href="#d" x="956" y="628"/><use id="o111" href="#d" x="852" y="692"/><use id="o112" href="#d" x="612" y="971"/><use id="o113" href="#d" x="525" y="981"/>
</g>
<g id="cyan">
<circle id="c1" class="cy" cx="451" cy="193" r="5"/>
<circle id="c2" class="cy" cx="509" cy="306" r="5"/>
<circle id="c3" class="cy" cx="464" cy="345" r="5"/>
<circle id="c4" class="cy" cx="417" cy="379" r="5"/>
<circle id="c5" class="cy" cx="340" cy="401" r="5"/>
<circle id="c6" class="cy" cx="468" cy="447" r="5"/>
<circle id="c7" class="cy" cx="509" cy="442" r="5"/>
<circle id="c8" class="cy" cx="408" cy="478" r="5"/>
<circle id="c9" class="cy" cx="457" cy="504" r="5"/>
</g>
</g>
</svg>
